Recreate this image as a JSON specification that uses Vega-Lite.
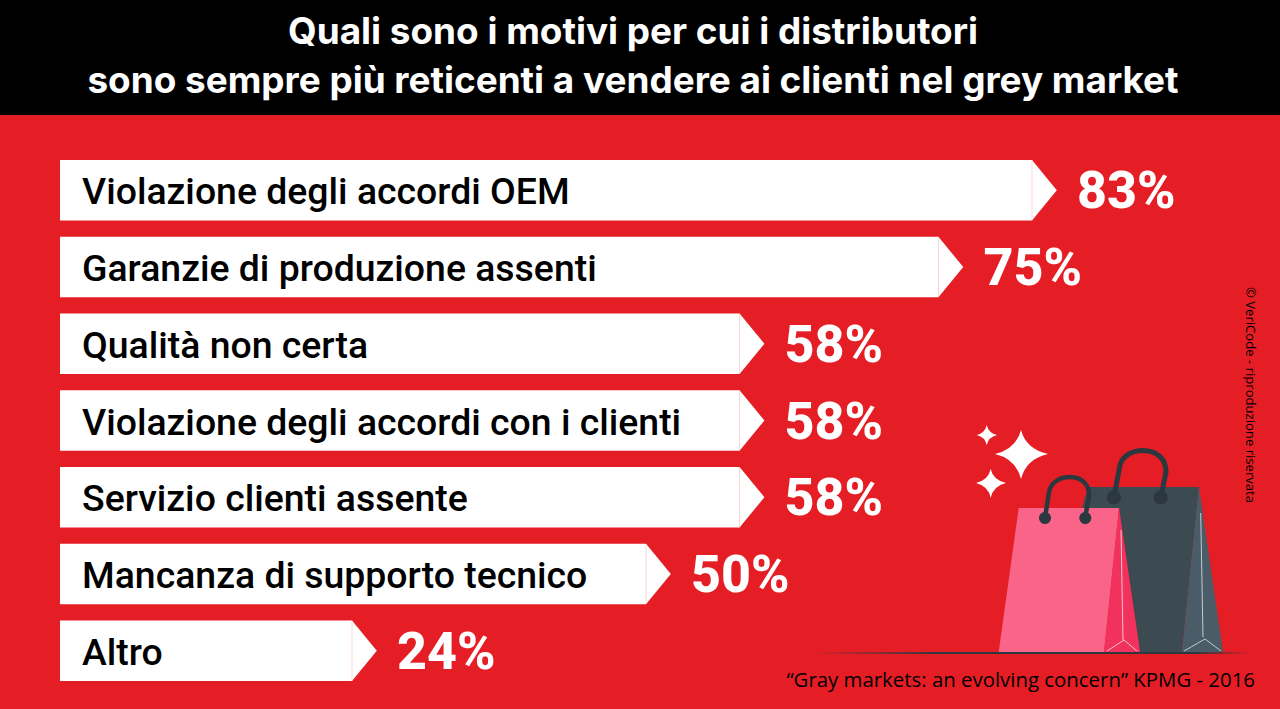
{
  "$schema": "https://vega.github.io/schema/vega-lite/v6.json",
  "width": 1280,
  "height": 709,
  "padding": 0,
  "autosize": "none",
  "background": "#E51E26",
  "config": {"view": {"stroke": null}},
  "title": {
    "text": ["Quali sono i motivi per cui i distributori", "sono sempre più reticenti a vendere ai clienti nel grey market"],
    "anchor": "start",
    "frame": "group",
    "align": "center",
    "dx": 633,
    "dy": 101,
    "offset": 0,
    "font": "Inter",
    "fontWeight": 700,
    "fontSize": 36.9,
    "lineHeight": 49,
    "color": "#ffffff",
    "zindex": 1
  },
  "datasets": {
    "motivi": [
      {"motivo": "Violazione degli accordi OEM", "quota": 0.83},
      {"motivo": "Garanzie di produzione assenti", "quota": 0.75},
      {"motivo": "Qualità non certa", "quota": 0.58},
      {"motivo": "Violazione degli accordi con i clienti", "quota": 0.58},
      {"motivo": "Servizio clienti assente", "quota": 0.58},
      {"motivo": "Mancanza di supporto tecnico", "quota": 0.50},
      {"motivo": "Altro", "quota": 0.24}
    ]
  },
  "layer": [
    {
      "data": {"values": [{"parte": "fascia"}]},
      "mark": {"type": "rect", "x": 0, "x2": 1280, "y": 0, "y2": 115, "color": "#000000"}
    },
    {
      "data": {"name": "motivi"},
      "encoding": {
        "x": {
          "field": "quota",
          "type": "quantitative",
          "axis": null,
          "scale": {"domain": [0, 0.24, 0.5, 0.83], "range": [60, 352, 646, 1032], "clamp": false, "nice": false, "zero": false}
        },
        "y": {
          "field": "motivo",
          "type": "nominal",
          "sort": null,
          "axis": null,
          "scale": {"range": [160, 681], "paddingInner": 0.21, "paddingOuter": 0}
        }
      },
      "layer": [
        {"mark": {"type": "bar", "color": "#ffffff", "x2": 60}},
        {"mark": {"type": "point", "shape": "M0,-1L0.82,0L0,1Z", "size": 3660, "filled": true, "color": "#ffffff", "opacity": 1, "strokeWidth": 0}},
        {"mark": {"type": "tick", "size": 60, "thickness": 1, "color": "#FBD5D8", "opacity": 1}},
        {
          "mark": {"type": "text", "x": 82, "align": "left", "baseline": "middle", "font": "Roboto", "fontWeight": 500, "fontSize": 37.4, "color": "#000000", "dy": 3},
          "encoding": {"text": {"field": "motivo"}, "x": {"value": 82}}
        },
        {
          "mark": {"type": "text", "dx": 45, "align": "left", "baseline": "middle", "font": "Roboto", "fontWeight": 800, "fontSize": 52, "color": "#ffffff", "dy": 2},
          "encoding": {"text": {"field": "quota", "format": ".0%"}}
        }
      ]
    },
    {
      "data": {"values": [{"parte": "illustrazione"}]},
      "layer": [
        {"mark": {"type": "rect", "x": 810, "x2": 1250, "y": 652, "y2": 654, "fill": {"x1": 0, "y1": 0, "x2": 1, "y2": 0, "gradient": "linear", "stops": [{"offset": 0, "color": "#E51E26"}, {"offset": 0.3, "color": "#2B3840"}, {"offset": 0.88, "color": "#2B3840"}, {"offset": 1, "color": "#E51E26"}]}}},
        {"mark": {"type": "point", "x": 0, "y": 0, "size": 4, "filled": true, "opacity": 1, "strokeWidth": 0, "color": "#3C4A52", "shape": "M1088,487L1199,487L1182,652L1140,652L1119,508L1082,508Z"}},
        {"mark": {"type": "point", "x": 0, "y": 0, "size": 4, "filled": true, "opacity": 1, "strokeWidth": 0, "color": "#4A5C68", "shape": "M1199,487L1223,652L1182,652Z"}},
        {"mark": {"type": "point", "x": 0, "y": 0, "size": 4, "filled": false, "opacity": 0.85, "strokeWidth": 0.9, "color": "#E8EDEF", "shape": "M1200.7,513L1203,637M1184,651L1205,639L1221,651"}},
        {"mark": {"type": "point", "x": 0, "y": 0, "size": 4, "filled": false, "opacity": 1, "strokeWidth": 5, "color": "#2B3840", "shape": "M1114,497L1120,465C1123,455 1133,450.5 1142.5,450.5C1156,450.5 1166,458 1166,472L1161,497"}},
        {"mark": {"type": "point", "x": 0, "y": 0, "size": 4, "filled": true, "opacity": 1, "strokeWidth": 0, "color": "#2B3840", "shape": "M1107,497.5a7,7 0 1,0 14,0a7,7 0 1,0 -14,0ZM1153.7,497.5a7,7 0 1,0 14,0a7,7 0 1,0 -14,0Z"}},
        {"mark": {"type": "point", "x": 0, "y": 0, "size": 4, "filled": true, "opacity": 1, "strokeWidth": 0, "color": "#FA6488", "shape": "M1018.7,508L1119,508L1104,652L998.7,652Z"}},
        {"mark": {"type": "point", "x": 0, "y": 0, "size": 4, "filled": true, "opacity": 1, "strokeWidth": 0, "color": "#F2325E", "shape": "M1119,508L1140,652L1104,652Z"}},
        {"mark": {"type": "point", "x": 0, "y": 0, "size": 4, "filled": false, "opacity": 0.9, "strokeWidth": 0.9, "color": "#FBE3E8", "shape": "M1121,530L1123,640M1107,651L1124,640L1137,651"}},
        {"mark": {"type": "point", "x": 0, "y": 0, "size": 4, "filled": false, "opacity": 1, "strokeWidth": 4.5, "color": "#2B3840", "shape": "M1045,518L1049,492C1051,482 1060,477 1070,477C1082,477 1090,485 1089,497L1085,518"}},
        {"mark": {"type": "point", "x": 0, "y": 0, "size": 4, "filled": true, "opacity": 1, "strokeWidth": 0, "color": "#2B3840", "shape": "M1039,518a6,6 0 1,0 12,0a6,6 0 1,0 -12,0ZM1079.3,518a6,6 0 1,0 12,0a6,6 0 1,0 -12,0Z"}},
        {"mark": {"type": "point", "x": 0, "y": 0, "size": 4, "filled": true, "opacity": 1, "strokeWidth": 0, "color": "#ffffff", "shape": "M1021,430Q1026,449 1048,454Q1026,459 1021,479Q1016,459 995,454Q1016,449 1021,430ZM986.7,425Q988.5,433 997,435Q988.5,437 986.7,445Q985,437 976.7,435Q985,433 986.7,425ZM990.7,469Q993,480 1006,483Q993,486 990.7,498Q988.5,486 976,483Q988.5,480 990.7,469Z"}}
      ]
    },
    {
      "data": {"values": [{"nota": "“Gray markets: an evolving concern” KPMG - 2016"}]},
      "mark": {"type": "text", "x": 1255, "y": 681, "align": "right", "baseline": "middle", "font": "Open Sans", "fontSize": 20.4, "color": "#000000"},
      "encoding": {"text": {"field": "nota"}}
    },
    {
      "data": {"values": [{"nota": "© VeriCode - riproduzione riservata"}]},
      "mark": {"type": "text", "x": 1250, "y": 395, "angle": 90, "align": "center", "baseline": "middle", "font": "Open Sans", "fontSize": 13.1, "color": "#000000"},
      "encoding": {"text": {"field": "nota"}}
    }
  ]
}
